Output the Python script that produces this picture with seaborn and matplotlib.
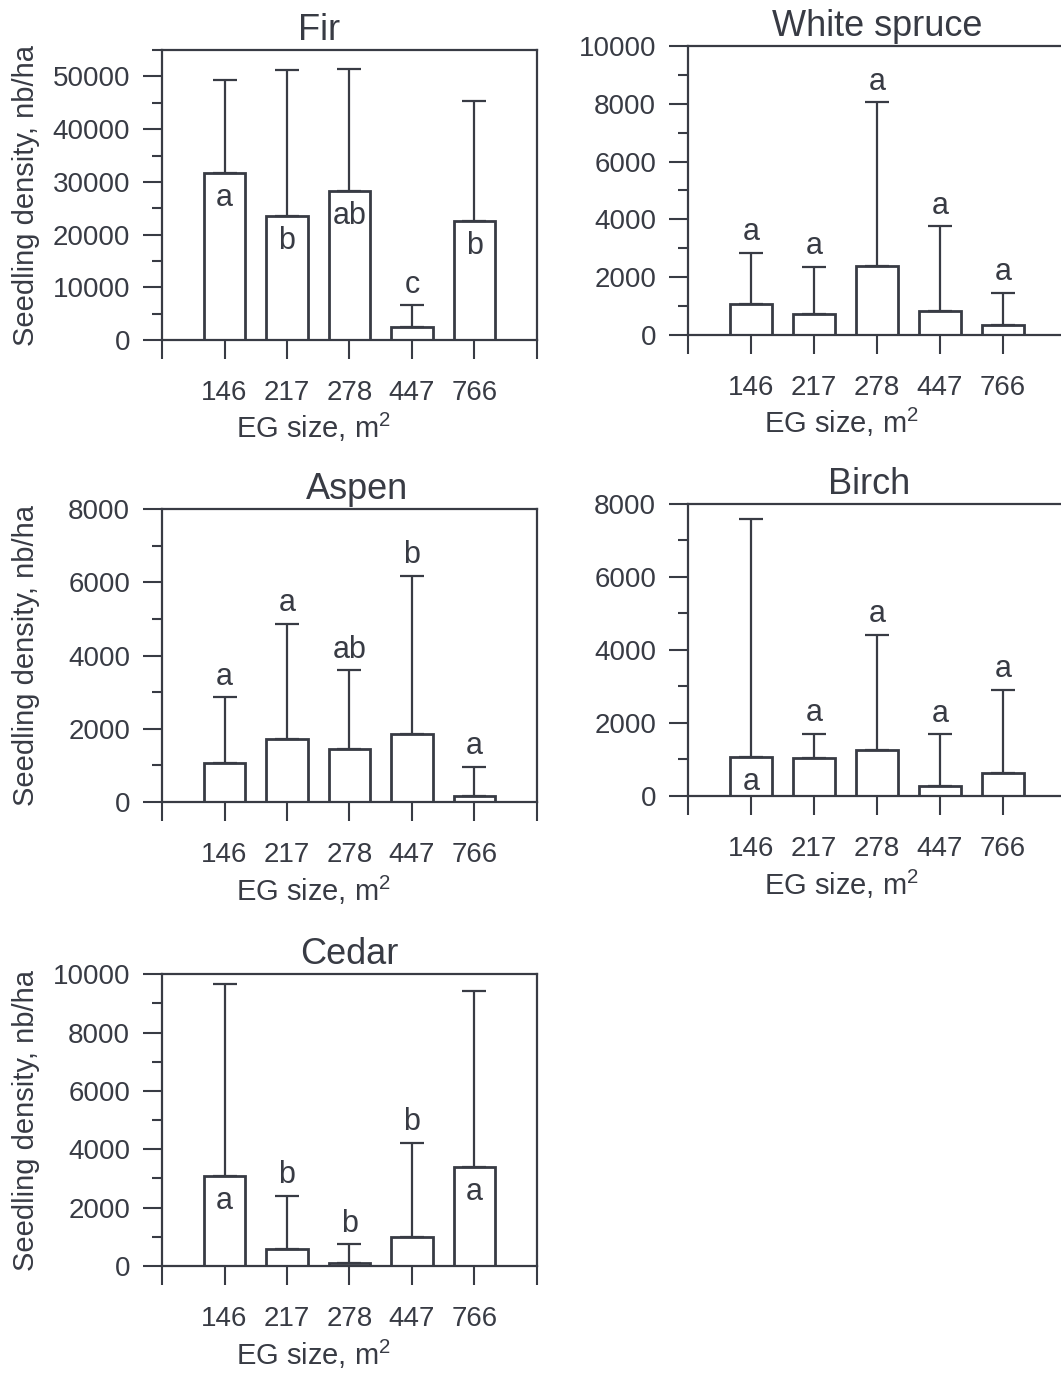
import numpy as np
import matplotlib
matplotlib.use("Agg")
import matplotlib.pyplot as plt
from matplotlib.ticker import MultipleLocator
import seaborn as sns

# EG size classes (m2)
sizes = ["146", "217", "278", "447", "766"]

# mean seedling density and top of the error bar, nb/ha
fir_mean = [31700, 23600, 28200, 2500, 22500]
fir_upper = [49300, 51300, 51400, 6600, 45400]
fir_letters = ["a", "b", "ab", "c", "b"]

spruce_mean = [1060, 710, 2400, 820, 330]
spruce_upper = [2840, 2360, 8050, 3760, 1450]
spruce_letters = ["a", "a", "a", "a", "a"]

aspen_mean = [1070, 1730, 1440, 1860, 160]
aspen_upper = [2860, 4860, 3600, 6180, 960]
aspen_letters = ["a", "a", "ab", "b", "a"]

birch_mean = [1070, 1030, 1270, 260, 640]
birch_upper = [7590, 1700, 4410, 1690, 2910]
birch_letters = ["a", "a", "a", "a", "a"]

cedar_mean = [3090, 590, 90, 1010, 3410]
cedar_upper = [9660, 2400, 740, 4230, 9430]
cedar_letters = ["a", "b", "b", "b", "a"]

# letter drawn inside the bar (True) or above the error bar (False)
fir_inside = [True, True, True, False, True]
spruce_inside = [False] * 5
aspen_inside = [False] * 5
birch_inside = [True, False, False, False, False]
cedar_inside = [True, False, False, False, True]

LC = "#383b44"

sns.set_style("ticks")
plt.rcParams["font.family"] = ["Liberation Sans", "DejaVu Sans"]
plt.rcParams["mathtext.fontset"] = "custom"
plt.rcParams["mathtext.rm"] = "Liberation Sans"
plt.rcParams["text.color"] = LC
plt.rcParams["axes.labelcolor"] = LC
plt.rcParams["xtick.color"] = LC
plt.rcParams["ytick.color"] = LC

fig = plt.figure(figsize=(10.61, 13.79), dpi=100)
fig.patch.set_facecolor("white")

panels = [
    # title, mean, upper, letters, inside, ymax, major, minor, rect, title_x, ylabel
    ("Fir", fir_mean, fir_upper, fir_letters, fir_inside, 55000, 10000, 5000,
     [0.1527, 0.7534, 0.3534, 0.2103], 0.42, True),
    ("White spruce", spruce_mean, spruce_upper, spruce_letters, spruce_inside, 10000, 2000, 1000,
     [0.6484, 0.7571, 0.3563, 0.2096], 0.5, False),
    ("Aspen", aspen_mean, aspen_upper, aspen_letters, aspen_inside, 8000, 2000, 1000,
     [0.1527, 0.4184, 0.3534, 0.2125], 0.52, True),
    ("Birch", birch_mean, birch_upper, birch_letters, birch_inside, 8000, 2000, 1000,
     [0.6484, 0.4228, 0.3563, 0.2118], 0.48, False),
    ("Cedar", cedar_mean, cedar_upper, cedar_letters, cedar_inside, 10000, 2000, 1000,
     [0.1527, 0.0819, 0.3534, 0.2117], 0.5, True),
]

for title, mean, upper, letters, inside, ymax, major, minor, rect, tx, has_ylab in panels:
    ax = fig.add_axes(rect)
    sns.barplot(x=sizes, y=mean, ax=ax, color="white", edgecolor=LC,
                linewidth=2, width=0.67, errorbar=None, saturation=1)
    mean_a = np.array(mean)
    err = np.array(upper) - mean_a
    ax.errorbar(np.arange(len(sizes)), mean_a, yerr=[np.zeros(len(sizes)), err],
                fmt="none", ecolor=LC, elinewidth=1.6, capsize=8.5, capthick=1.6, zorder=3)

    for i, lab in enumerate(letters):
        if inside[i]:
            ax.annotate(lab, xy=(i, mean[i]), xytext=(0, -18), textcoords="offset points",
                        ha="center", va="center", fontsize=22, color=LC)
        else:
            ax.annotate(lab, xy=(i, upper[i]), xytext=(0, 4), textcoords="offset points",
                        ha="center", va="bottom", fontsize=22, color=LC)

    ax.set_xlim(-1, 5)
    ax.set_ylim(0, ymax)
    ax.set_xticks(np.arange(-1, 6))
    ax.set_xticklabels([""] + sizes + [""])
    ax.yaxis.set_major_locator(MultipleLocator(major))
    ax.yaxis.set_minor_locator(MultipleLocator(minor))
    ax.tick_params(axis="x", direction="out", length=14, width=1.5, pad=15, labelsize=20)
    ax.tick_params(axis="y", which="major", direction="out", length=14, width=1.5, pad=9, labelsize=20)
    ax.tick_params(axis="y", which="minor", direction="out", length=7, width=1.5)
    for sp in ax.spines.values():
        sp.set_visible(True)
        sp.set_linewidth(1.6)
        sp.set_color(LC)

    ax.set_title(title, fontsize=26, x=tx, pad=7, color=LC)
    ax.set_xlabel("EG size, m$^2$", fontsize=21)
    ax.xaxis.set_label_coords(0.405, -0.245)
    if has_ylab:
        ax.set_ylabel("Seedling density, nb/ha", fontsize=21)
        ax.yaxis.set_label_coords(-0.325, 0.5)
    else:
        ax.set_ylabel("")

fig.savefig("out.png", dpi=100, facecolor="white")
